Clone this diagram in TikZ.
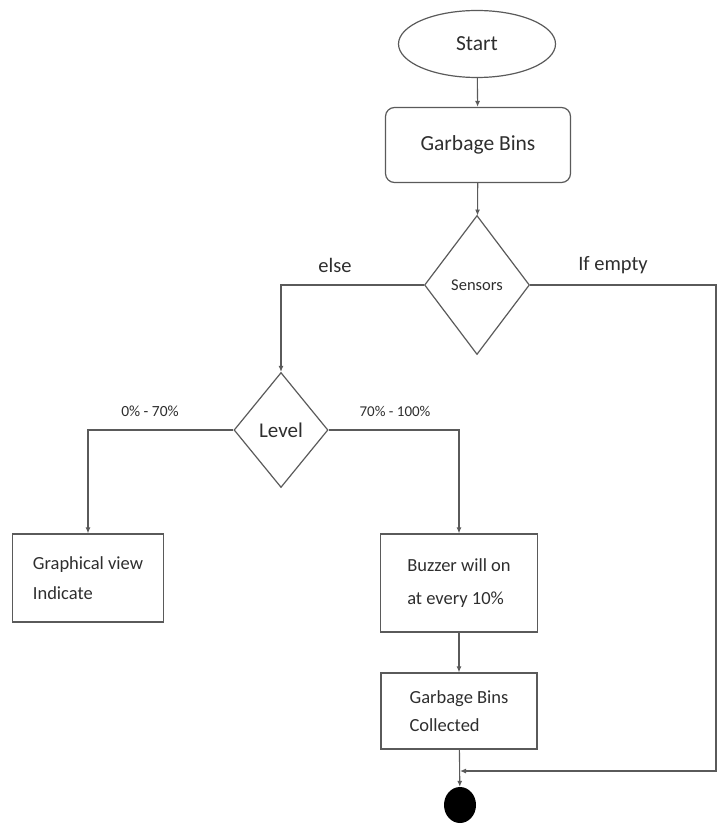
\documentclass[tikz,border=0pt]{standalone}
\usepackage{fontspec}
\setmainfont{Carlito}
\usetikzlibrary{shapes.geometric,arrows.meta}
\definecolor{linec}{HTML}{5A5A5A}
\definecolor{textc}{HTML}{2E2E2E}
\tikzset{
  every node/.style={text=textc},
  conn/.style={draw=linec, line width=1.1pt, -{Latex[length=6pt,width=5pt]}},
  boxnode/.style={draw=linec, line width=1.2pt, align=left, inner sep=0pt},
  decis/.style={draw=linec, line width=1.2pt, diamond, inner sep=0pt},
  lbl/.style={font=\fontsize{20.5}{22}\selectfont}
}
\begin{document}
\begin{tikzpicture}[x=1pt,y=-1pt]
\useasboundingbox (0,0) rectangle (717,826);
\node[draw=linec, line width=1.2pt, ellipse, minimum width=157pt, minimum height=67pt, inner sep=0pt, font=\fontsize{21.5}{24}\selectfont] (start) at (477,44) {Start};
\node[draw=linec, line width=1.2pt, rounded corners=9pt, minimum width=185pt, minimum height=75pt, inner sep=0pt, font=\fontsize{21.5}{24}\selectfont] (bins) at (478,145) {Garbage Bins};
\node[decis, minimum width=105pt, minimum height=139pt, font=\fontsize{16.5}{18}\selectfont] (sensors) at (477,285) {Sensors};
\node[decis, minimum width=94pt, minimum height=115pt, font=\fontsize{21}{24}\selectfont] (level) at (281,430) {Level};
\node[boxnode, minimum width=151pt, minimum height=88pt, font=\fontsize{18.5}{30}\selectfont] (graph) at (88,578) {Graphical view\\Indicate};
\node[boxnode, minimum width=157pt, minimum height=98pt, font=\fontsize{18.5}{33}\selectfont] (buzzer) at (459,583) {Buzzer will on\\at every 10\%};
\node[boxnode, minimum width=156pt, minimum height=76pt, font=\fontsize{18.5}{28}\selectfont] (coll) at (459,711) {Garbage Bins\\Collected};
\node[fill=black, ellipse, minimum width=32pt, minimum height=36pt, inner sep=0pt] (finish) at (460,805) {};
\coordinate (rtop) at (716,285);
\coordinate (rbot) at (716,771);
\coordinate (join) at (459,771);

\draw[conn] (start) -- (bins);
\draw[conn] (bins) -- (sensors);
\draw[conn] (sensors.west) -| (level.north);
\draw[conn] (level.west) -| (graph.north);
\draw[conn] (level.east) -| (buzzer.north);
\draw[conn] (buzzer) -- (coll);
\draw[conn] (coll) -- (finish);
\draw[conn] (sensors.east) -- (rtop) -- (rbot) -- ([xshift=1pt]join);

\node[lbl] (elsel) at (335,265) {else};
\node[lbl] (emptyl) at (613,265) {If empty};
\node[font=\fontsize{15.5}{17}\selectfont] (lowl) at (150,411) {0\% - 70\%};
\node[font=\fontsize{15}{17}\selectfont] (highl) at (395,411) {70\% - 100\%};
\end{tikzpicture}
\end{document}
